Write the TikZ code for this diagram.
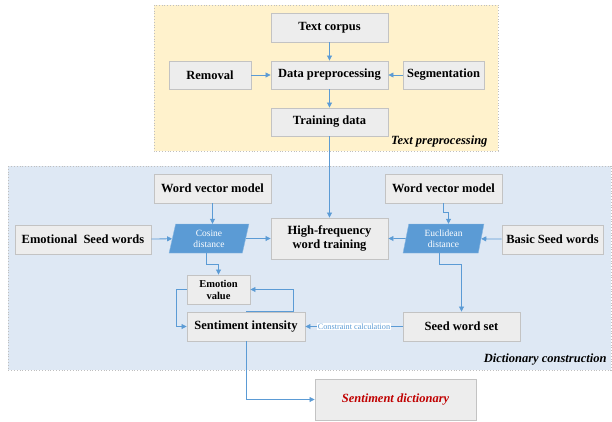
\documentclass[tikz,border=0pt]{standalone}
\usepackage{fontspec}
\setmainfont{Liberation Serif}
\usetikzlibrary{
    positioning,
    arrows.meta,
    shapes.geometric
}
\definecolor{flecha}{HTML}{5B9BD5}
\definecolor{cajafondo}{HTML}{EDEDED}
\definecolor{cajaborde}{HTML}{C3C3C3}
\definecolor{amarillo}{HTML}{FFF2CC}
\definecolor{celeste}{HTML}{DEE8F4}
\definecolor{borde}{HTML}{BFBFBF}
\definecolor{rojo}{HTML}{C00000}
\tikzset{
    >={Triangle[length=5pt,width=5pt]},
    caja/.style={
        draw=cajaborde,
        fill=cajafondo,
        line width=0.9pt,
        align=center,
        inner sep=1pt,
        font=\bfseries\fontsize{12.5}{14}\selectfont
    },
    distancia/.style={
        trapezium,
        trapezium left angle=80,
        trapezium right angle=100,
        trapezium stretches=true,
        fill=flecha,
        draw=flecha!70!white,
        text=white,
        align=center,
        inner sep=0pt,
        minimum width=80pt,
        minimum height=29pt,
        font=\fontsize{9.5}{11}\selectfont
    },
    region/.style={
        draw=borde,
        dotted,
        line width=0.8pt
    },
    flujo/.style={
        ->,
        draw=flecha,
        line width=0.8pt
    }
}

\begin{document}
\begin{tikzpicture}[x=1pt, y=-1pt]

    \useasboundingbox (0,0) rectangle (612,421);

    % Zonas
    \draw[region, fill=amarillo] (154,5) rectangle (498,151);
    \draw[region, fill=celeste]  (8,166) rectangle (611,370);
    \node[anchor=east, font=\bfseries\itshape\fontsize{12.5}{14}\selectfont]
        (zonatexto) at (491,141) {Text preprocessing};
    \node[anchor=east, font=\bfseries\itshape\fontsize{12.5}{14}\selectfont]
        (zonadicc) at (610,360) {Dictionary construction};

    % Preprocesado
    \node[caja, minimum width=117pt, minimum height=29pt] (corpus)   at (329.5,27.5) {Text corpus};
    \node[caja, minimum width=117pt, minimum height=28pt] (prepro)   at (329.5,75)   {Data preprocessing};
    \node[caja, minimum width=82pt,  minimum height=28pt] (removal)  at (210,75)     {Removal};
    \node[caja, minimum width=81pt,  minimum height=28pt] (segment)  at (443.5,75)   {Segmentation};
    \node[caja, minimum width=117pt, minimum height=28pt] (training) at (329.5,122)  {Training data};

    % Construccion del diccionario
    \node[caja, minimum width=117pt, minimum height=29pt] (wvmL)      at (212.5,188.5) {Word vector model};
    \node[caja, minimum width=117pt, minimum height=29pt] (wvmR)      at (443.5,188.5) {Word vector model};
    \node[caja, minimum width=136pt, minimum height=29pt] (emoseed)   at (83,239.5)    {Emotional~ Seed words};
    \node[distancia]                                      (cosine)    at (209,238.5)   {Cosine\\distance};
    \node[caja, minimum width=117pt, minimum height=41pt] (hfwt)      at (329.5,238.5) {High-frequency\\word training};
    \node[distancia, minimum width=81pt]                  (euclid)    at (443.5,238.5) {Euclidean\\distance};
    \node[caja, minimum width=101pt, minimum height=29pt] (basic)     at (552.5,239.5) {Basic Seed words};
    \node[caja, minimum width=63pt,  minimum height=29pt,
          font=\bfseries\fontsize{10.5}{12}\selectfont]   (emoval)    at (218.5,289.5) {Emotion\\value};
    \node[caja, minimum width=118pt, minimum height=29pt] (intensity) at (246,326.5)   {Sentiment intensity};
    \node[caja, minimum width=117pt, minimum height=29pt] (seedset)   at (461.5,326.5) {Seed word set};

    % Resultado
    \node[caja, minimum width=161pt, minimum height=41pt, text=rojo,
          font=\bfseries\itshape\fontsize{12.5}{14}\selectfont] (dict) at (395.5,399.5) {Sentiment dictionary};

    % Flechas
    \draw[flujo] (corpus) -- (prepro);
    \draw[flujo] (removal) -- (prepro);
    \draw[flujo] (segment) -- (prepro);
    \draw[flujo] (prepro) -- (training);
    \draw[flujo] (training) -- (hfwt);

    \draw[flujo] (wvmL.south) -- (wvmL.south |- cosine.north);
    \draw[flujo] (emoseed) -- (cosine);
    \draw[flujo] (cosine) -- (hfwt);
    \draw[flujo] ([xshift=-3pt]cosine.south) -- ++(0,11) -| (emoval.north);

    \draw[flujo] (wvmR.south) -- ++(0,9) -| ([xshift=5pt]euclid.north);
    \draw[flujo] (basic) -- (euclid);
    \draw[flujo] (euclid) -- (hfwt);
    \draw[flujo] ([xshift=-4.5pt]euclid.south) -- ++(0,11) -| (seedset.north);

    \draw[flujo] (seedset) -- node[fill=white, inner sep=0.5pt, text=flecha,
        font=\fontsize{8.2}{9}\selectfont] (restric) {Constraint calculation} (intensity);
    \draw[flujo] (emoval.west) -- ++(-10,0) |- (intensity.west);
    \draw[flujo] (intensity.north) -- ++(47,0) |- (emoval.east);
    \draw[flujo] (intensity.south) |- (dict.west);

\end{tikzpicture}
\end{document}
